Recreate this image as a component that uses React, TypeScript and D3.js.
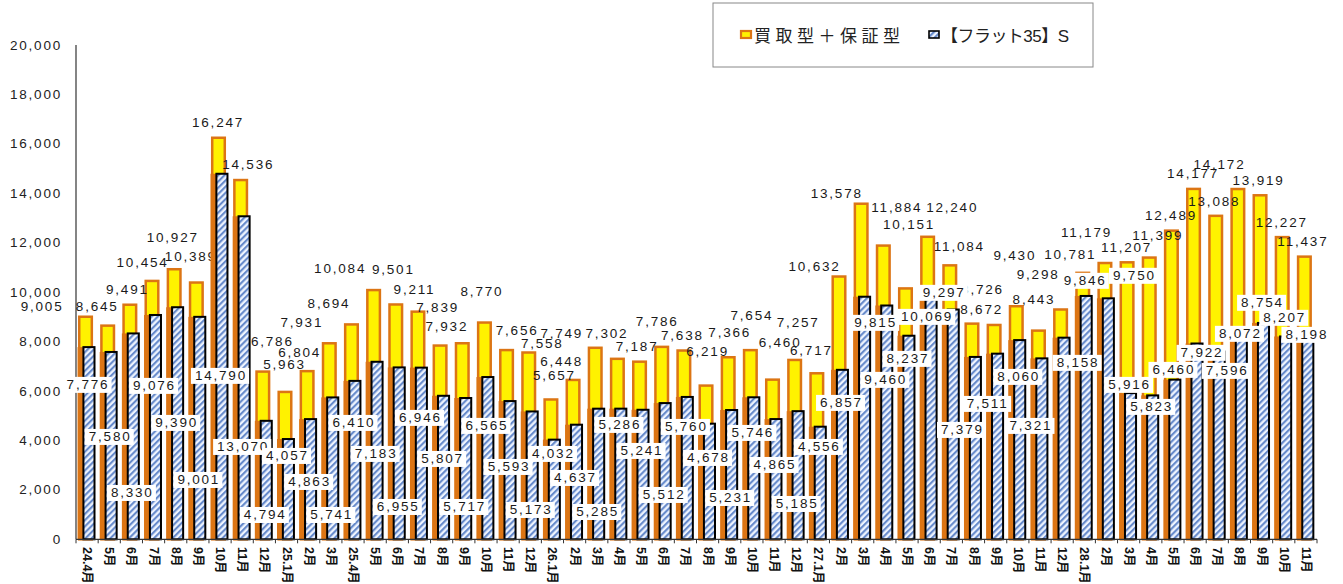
import * as d3 from "d3";

// 月次ラベル（横軸）
const monthLabels = [
  "24.4月", "5月", "6月", "7月", "8月", "9月", "10月", "11月", "12月", "25.1月", "2月", "3月",
  "25.4月", "5月", "6月", "7月", "8月", "9月", "10月", "11月", "12月", "26.1月", "2月", "3月",
  "4月", "5月", "6月", "7月", "8月", "9月", "10月", "11月", "12月", "27.1月", "2月", "3月",
  "4月", "5月", "6月", "7月", "8月", "9月", "10月", "11月", "12月", "28.1月", "2月", "3月",
  "4月", "5月", "6月", "7月", "8月", "9月", "10月", "11月",
];

// 買取型＋保証型
const totals = [
  9005, 8645, 9491, 10454, 10927, 10389, 16247, 14536, 6786, 5963, 6804, 7931,
  8694, 10084, 9501, 9211, 7839, 7932, 8770, 7656, 7558, 5657, 6448, 7749,
  7302, 7187, 7786, 7638, 6219, 7366, 7654, 6460, 7257, 6717, 10632, 13578,
  11884, 10151, 12240, 11084, 8726, 8672, 9430, 8443, 9298, 10781, 11179, 11207,
  11399, 12489, 14177, 13088, 14172, 13919, 12227, 11437,
];

// 【フラット35】S
const flat35s = [
  7776, 7580, 8330, 9076, 9390, 9001, 14790, 13070, 4794, 4057, 4863, 5741,
  6410, 7183, 6955, 6946, 5807, 5717, 6565, 5593, 5173, 4032, 4637, 5285,
  5286, 5241, 5512, 5760, 4678, 5231, 5746, 4865, 5185, 4556, 6857, 9815,
  9460, 8237, 10069, 9297, 7379, 7511, 8060, 7321, 8158, 9846, 9750, 5916,
  5823, 6460, 7922, 7596, 8072, 8754, 8207, 8198,
];

const yTicks = [0, 2000, 4000, 6000, 8000, 10000, 12000, 14000, 16000, 18000, 20000];

// label placement (value level on the y scale, horizontal nudge in px)
const totalLabelLevel = [
  9406, 9406, 10094, 11188, 12200, 11431, 16856, 15155, 7989, 7058, 7544, 8758,
  9527, 10944, 10904, 10094, 9365, 8596, 10013, 8434, 7907, 6611, 7179, 8313,
  8313, 7786, 8799, 8232, 7584, 8353, 9042, 7948, 8758, 7624, 11026, 13981,
  13414, 12726, 13414, 11836, 10094, 9284, 11471, 9689, 10701, 11512, 12403, 11795,
  12281, 13091, 14791, 13657, 15155, 14507, 12807, 12038,
];
const totalLabelDx = [
  -45, -12, -4, -11, -3, -7, -2, 6, 8, -2, -9, -29,
  -24, -35, -4, -5, -4, -17, -4, 9, 12, 2, -13, -35,
  -12, -4, -6, -3, 0, 0, 0, 6, 2, -7, -26, -26,
  12, 2, 23, 8, 9, -14, -3, -6, -24, -14, -20, -2,
  7, -2, -2, -3, -20, -3, -2, -3,
];
const flatLabelLevel = [
  6248, 4142, 1875, 6207, 4709, 2401, 6612, 3737, 984, 3373, 2320, 984,
  4709, 3454, 1308, 4912, 3251, 1308, 4588, 2927, 1187, 3454, 2482, 1105,
  4628, 3575, 1794, 4547, 3292, 1672, 4304, 3008, 1429, 3737, 5519, 8758,
  6450, 7300, 9000, 9972, 4425, 5478, 6571, 4588, 7139, 10458, 10661, 6248,
  5357, 6855, 7544, 6814, 8313, 9568, 8961, 8272,
];
const flatLabelDx: Record<number, number> = {
  35: 12, 38: -3, 39: -8, 40: -12, 41: -9, 43: -10, 44: 15, 46: 27, 50: 6, 51: 9,
};

const W = 1343;
const H = 584;
const ORANGE = "#DC7514";
const YELLOW = "#FFF200";
const FONT = "'Liberation Sans', 'Noto Sans CJK JP', sans-serif";

export default function App() {
  const fmt = d3.format(",");
  const idx = d3.range(monthLabels.length);

  const x = d3.scaleBand<number>().domain(idx).range([76, 1317]).padding(0);
  const y = d3.scaleLinear().domain([0, 20000]).range([539.3, 45]);
  const bw = x.bandwidth();

  // bar geometry inside a band
  const yel = { x: bw * 0.09 + 1.25, w: bw * 0.68 - 2.5 };
  const hat = { x: bw * 0.29 + 1, w: bw * 0.59 - 2 };
  const strip = { x: bw * 0.07, w: hat.x - bw * 0.07 };

  return (
    <svg
      width={W}
      height={H}
      style={{ position: "absolute", left: 0, top: 0, background: "#fff" }}
      fontFamily={FONT}
    >
      <defs>
        <pattern
          id="hatch"
          width={4.4}
          height={4.4}
          patternUnits="userSpaceOnUse"
          patternTransform="rotate(45)"
        >
          <rect width={4.4} height={4.4} fill="#EEF4FF" />
          <line x1={1.1} y1={0} x2={1.1} y2={4.4} stroke="#5F84C8" strokeWidth={2} />
        </pattern>
      </defs>

      {/* y axis */}
      <line x1={76} x2={76} y1={y(20000)} y2={y(0)} stroke="#333" strokeWidth={1.2} />
      {yTicks.map((t) => (
        <text
          key={t}
          x={62}
          y={y(t)}
          textAnchor="end"
          dominantBaseline="central"
          fontSize={13.5}
          letterSpacing={1.8}
          fill="#222"
        >
          {fmt(t)}
        </text>
      ))}

      {/* 買取型＋保証型 */}
      {idx.map((i) => (
        <rect
          key={"t" + i}
          x={x(i)! + yel.x}
          y={y(totals[i])}
          width={yel.w}
          height={y(0) - y(totals[i])}
          fill={YELLOW}
          stroke={ORANGE}
          strokeWidth={2.5}
        />
      ))}

      {/* total labels */}
      {idx.map((i) => (
        <text
          key={"tl" + i}
          x={x(i)! + bw / 2 + totalLabelDx[i]}
          y={y(totalLabelLevel[i])}
          textAnchor="middle"
          dominantBaseline="central"
          fontSize={13.5}
          letterSpacing={1.8}
          fill="#1a1a1a"
        >
          {fmt(totals[i])}
        </text>
      ))}

      {/* 【フラット35】S */}
      {idx.map((i) => (
        <g key={"f" + i}>
          <rect
            x={x(i)! + strip.x}
            y={y(flat35s[i])}
            width={strip.w}
            height={y(0) - y(flat35s[i])}
            fill={ORANGE}
          />
          <rect
            x={x(i)! + hat.x}
            y={y(flat35s[i])}
            width={hat.w}
            height={y(0) - y(flat35s[i])}
            fill="url(#hatch)"
            stroke="#000"
            strokeWidth={2}
          />
        </g>
      ))}

      {/* x axis */}
      <line x1={76} x2={1317} y1={y(0)} y2={y(0)} stroke="#333" strokeWidth={1.2} />
      {idx.concat([idx.length]).map((i) => {
        const px = 76 + i * bw;
        return <line key={"xt" + i} x1={px} x2={px} y1={y(0)} y2={y(0) + 4} stroke="#333" />;
      })}
      {idx.map((i) => (
        <text
          key={"xl" + i}
          transform={`translate(${x(i)! + bw / 2}, 547) rotate(90)`}
          textAnchor="start"
          dominantBaseline="central"
          fontSize={12.5}
          fontWeight="bold"
          fill="#111"
        >
          {monthLabels[i]}
        </text>
      ))}

      {/* flat labels in white boxes */}
      {idx.map((i) => {
        const s = fmt(flat35s[i]);
        const cx = x(i)! + bw / 2 + (flatLabelDx[i] ?? 0);
        const cy = y(flatLabelLevel[i]);
        const bwid = s.length * 9.2 + 3;
        return (
          <g key={"fl" + i}>
            <rect x={cx - bwid / 2} y={cy - 8} width={bwid} height={16} fill="#fff" />
            <text
              x={cx + 0.9}
              y={cy}
              textAnchor="middle"
              dominantBaseline="central"
              fontSize={13.5}
              letterSpacing={1.8}
              fill="#1a1a1a"
            >
              {s}
            </text>
          </g>
        );
      })}

      {/* legend */}
      <rect x={713} y={3} width={380} height={64} fill="#fff" stroke="#888" strokeWidth={1} />
      <rect x={741} y={31} width={10} height={7} fill={YELLOW} stroke={ORANGE} strokeWidth={2.2} />
      <text
        x={754}
        y={36}
        dominantBaseline="central"
        fontSize={17}
        textLength={146}
        lengthAdjust="spacing"
        fill="#222"
      >
        買取型＋保証型
      </text>
      <rect x={929} y={31} width={10} height={7} fill="url(#hatch)" stroke="#000" strokeWidth={1.6} />
      <text
        x={941}
        y={36}
        dominantBaseline="central"
        fontSize={17}
        textLength={128}
        lengthAdjust="spacing"
        fill="#222"
      >
        【フラット35】S
      </text>
    </svg>
  );
}
